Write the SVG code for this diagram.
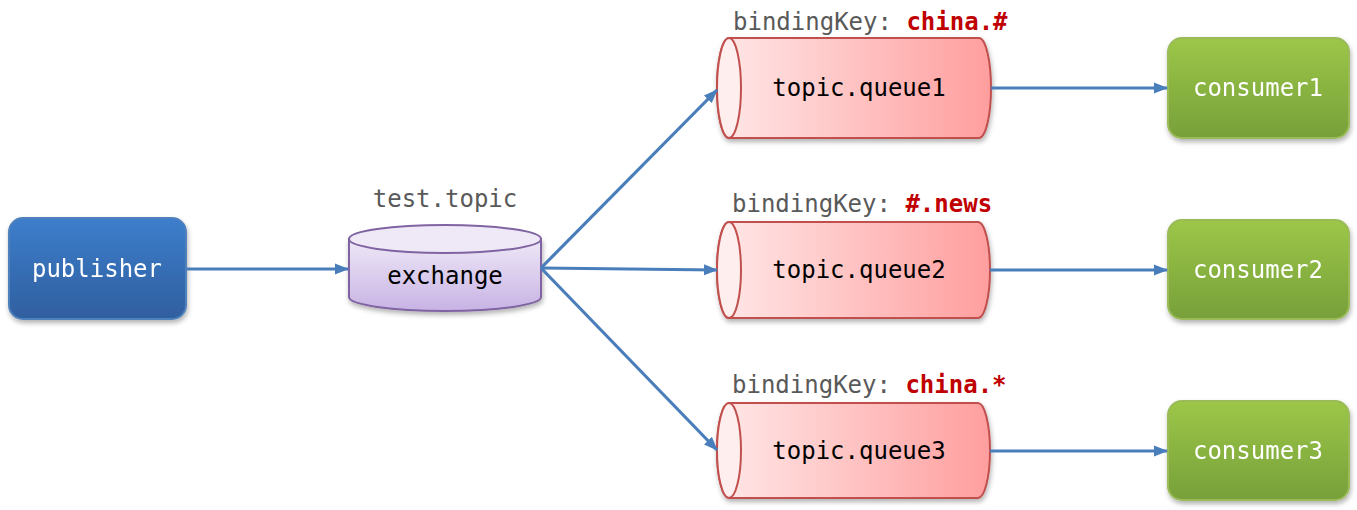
<svg xmlns="http://www.w3.org/2000/svg" width="1357" height="510" viewBox="0 0 1357 510">
<defs>
<linearGradient id="gBlue" x1="0" y1="0" x2="0" y2="1"><stop offset="0" stop-color="#3D7ECC"/><stop offset="1" stop-color="#2F5F9F"/></linearGradient>
<linearGradient id="gGreen" x1="0" y1="0" x2="0" y2="1"><stop offset="0" stop-color="#9CC748"/><stop offset="1" stop-color="#77A03A"/></linearGradient>
<linearGradient id="gPurple" x1="0" y1="0" x2="0" y2="1"><stop offset="0" stop-color="#EEE8F7"/><stop offset="1" stop-color="#C8B3E4"/></linearGradient>
<linearGradient id="gRed" x1="0" y1="0" x2="1" y2="0"><stop offset="0" stop-color="#FFE8E8"/><stop offset="1" stop-color="#FF9E9E"/></linearGradient>
<filter id="sh" x="-10%" y="-10%" width="130%" height="140%"><feDropShadow dx="1" dy="3" stdDeviation="2.5" flood-color="#000" flood-opacity="0.3"/></filter>
<marker id="arr" markerWidth="14" markerHeight="14" refX="13" refY="7" orient="auto" markerUnits="userSpaceOnUse"><path d="M0,1.5 L14,7 L0,12.5 Z" fill="#4A7EBB"/></marker>
</defs>
<style>
text{font-family:"DejaVu Sans Mono","Liberation Mono",monospace;font-size:24px;text-anchor:middle;dominant-baseline:central}
.w{fill:#fff}
.k{fill:#000}
.g{fill:#595959;text-anchor:start}
.r{fill:#C00000;font-weight:bold}
.conn path{stroke:#4A7EBB;stroke-width:3.2;fill:none;marker-end:url(#arr)}
.q{fill:url(#gRed);stroke:#C0504D;stroke-width:2}
.qe{fill:#FFEEEE;stroke:#C0504D;stroke-width:2}
</style>
<g id="publisher" filter="url(#sh)"><rect x="9" y="218" width="177" height="101" rx="14" fill="url(#gBlue)" stroke="#4F81BD" stroke-width="2"/><text x="97" y="269" class="w">publisher</text></g>
<g id="exchange"><path d="M349,239 L349,297 A96,14 0 0 0 541,297 L541,239 Z" fill="url(#gPurple)" stroke="#8064A2" stroke-width="2" filter="url(#sh)"/><ellipse cx="445" cy="239" rx="96" ry="14" fill="#EEE8F7" stroke="#8064A2" stroke-width="2"/><text x="445" y="276" class="k">exchange</text><text x="445" y="199" style="fill:#595959">test.topic</text></g>
<g id="queue1"><text x="733" y="22" class="g">bindingKey: <tspan class="r">china.#</tspan></text><path d="M729,38 L979,38 A12,50 0 0 1 979,138 L729,138 A12,50 0 0 1 729,38 Z" class="q" filter="url(#sh)"/><ellipse cx="729" cy="88" rx="12" ry="50" class="qe"/><text x="859" y="88" class="k">topic.queue1</text></g>
<g id="queue2"><text x="732" y="204" class="g">bindingKey: <tspan class="r">#.news</tspan></text><path d="M729,222 L978,222 A12,48 0 0 1 978,318 L729,318 A12,48 0 0 1 729,222 Z" class="q" filter="url(#sh)"/><ellipse cx="729" cy="270" rx="12" ry="48" class="qe"/><text x="859" y="270" class="k">topic.queue2</text></g>
<g id="queue3"><text x="732" y="385" class="g">bindingKey: <tspan class="r">china.*</tspan></text><path d="M729,403 L978,403 A12,47.5 0 0 1 978,498 L729,498 A12,47.5 0 0 1 729,403 Z" class="q" filter="url(#sh)"/><ellipse cx="729" cy="450.5" rx="12" ry="47.5" class="qe"/><text x="859" y="451" class="k">topic.queue3</text></g>
<g id="consumer1" filter="url(#sh)"><rect x="1168" y="38" width="181" height="100" rx="14" fill="url(#gGreen)" stroke="#9BBB59" stroke-width="2"/><text x="1258" y="88" class="w">consumer1</text></g>
<g id="consumer2" filter="url(#sh)"><rect x="1168" y="220" width="181" height="99" rx="14" fill="url(#gGreen)" stroke="#9BBB59" stroke-width="2"/><text x="1258" y="270" class="w">consumer2</text></g>
<g id="consumer3" filter="url(#sh)"><rect x="1168" y="401" width="181" height="99" rx="14" fill="url(#gGreen)" stroke="#9BBB59" stroke-width="2"/><text x="1258" y="451" class="w">consumer3</text></g>
<g class="conn" id="connectors">
<path d="M186,269 L348,269"/>
<path d="M541,268 L717,90"/>
<path d="M541,268 L717,270"/>
<path d="M541,268 L717,450"/>
<path d="M991,88 L1167,88"/>
<path d="M990,270 L1167,270"/>
<path d="M990,451 L1167,451"/>
</g>
</svg>
